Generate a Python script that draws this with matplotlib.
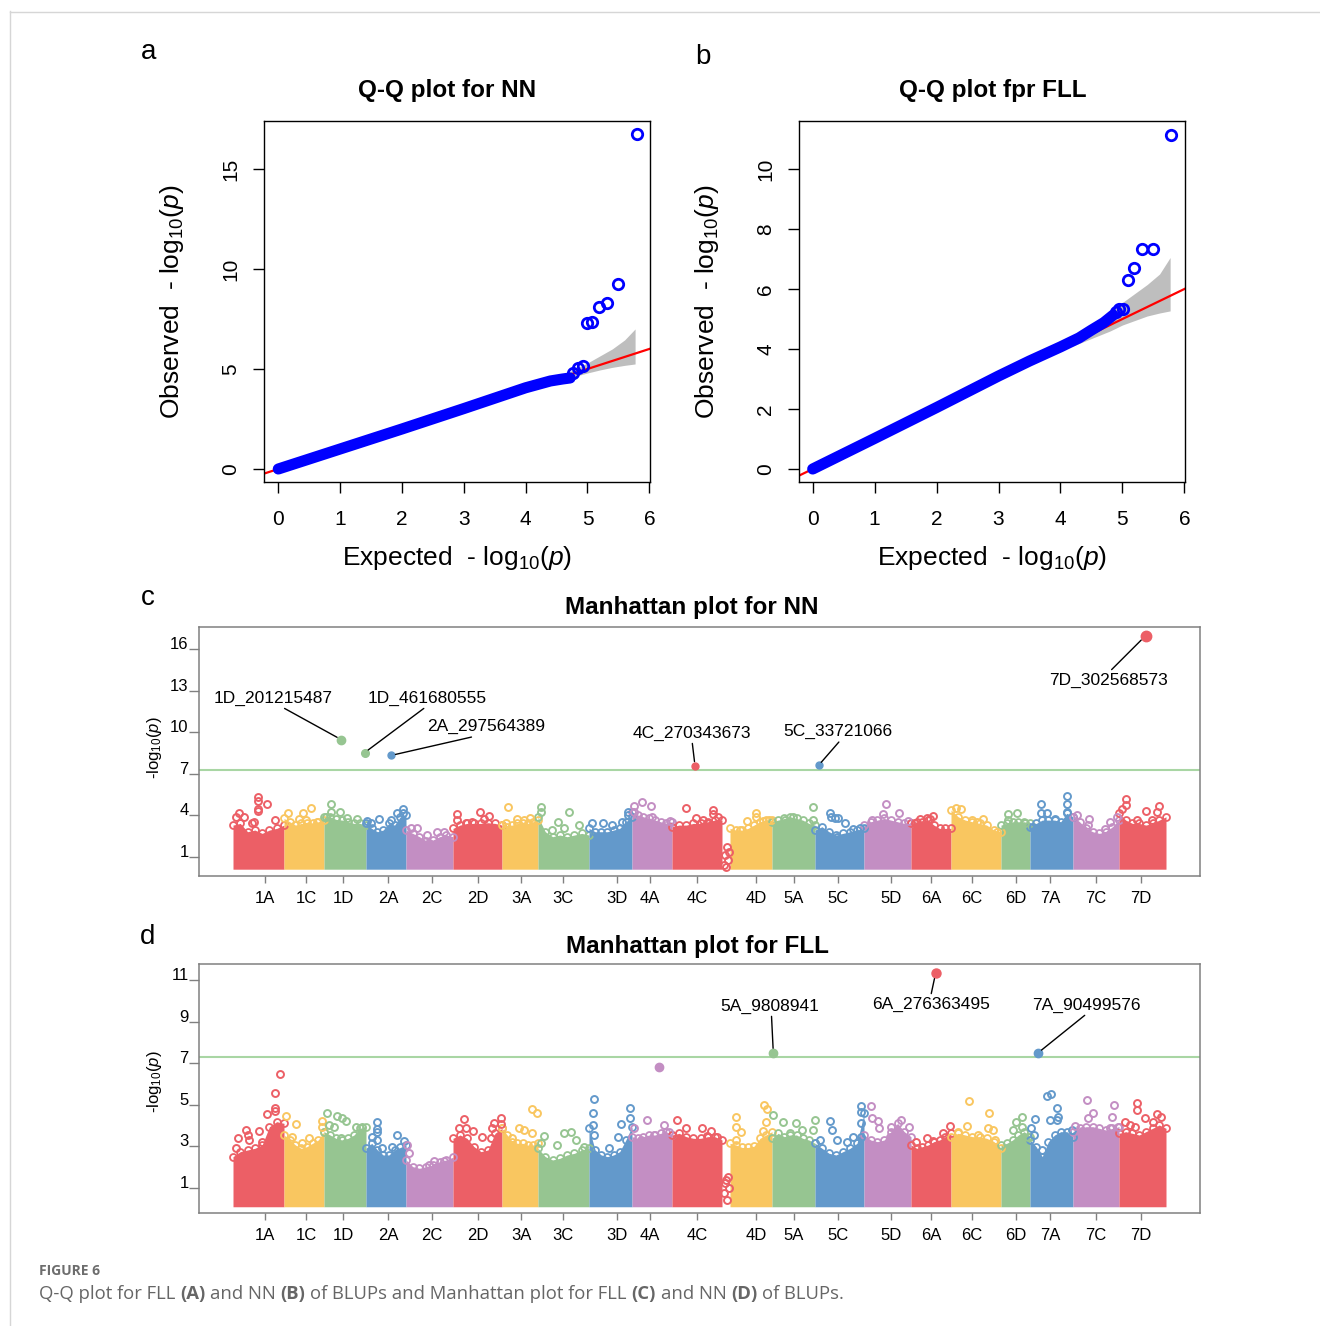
import numpy as np
import matplotlib.pyplot as plt
from matplotlib.lines import Line2D

plt.rcParams['font.family'] = ['Liberation Sans', 'DejaVu Sans']
plt.rcParams['mathtext.fontset'] = 'custom'
plt.rcParams['mathtext.rm'] = 'Liberation Sans'
plt.rcParams['mathtext.it'] = 'Liberation Sans:italic'
plt.rcParams['mathtext.bf'] = 'Liberation Sans:bold'

# ---------------- Q-Q data (-log10 p) ----------------
qq_nn_exp = [0, 1, 2, 3, 4, 4.4, 4.6, 4.72]
qq_nn_obs = [0, 1, 2, 3.02, 4.06, 4.4, 4.5, 4.55]
qq_nn_tail_exp = [4.77, 4.85, 4.93, 5.00, 5.08, 5.19, 5.32, 5.49, 5.80]
qq_nn_tail_obs = [4.78, 5.03, 5.17, 7.32, 7.37, 8.08, 8.28, 9.23, 16.75]
qq_nn_ci_exp = [4.4, 4.7, 5.0, 5.2, 5.4, 5.6, 5.77]
qq_nn_ci_lo = [4.3, 4.55, 4.8, 4.95, 5.08, 5.18, 5.25]
qq_nn_ci_hi = [4.5, 4.85, 5.3, 5.65, 6.0, 6.45, 7.0]

qq_fll_exp = [0, 1, 2, 3, 3.5, 4, 4.3, 4.5, 4.7, 4.85]
qq_fll_obs = [0, 1.02, 2.05, 3.1, 3.6, 4.07, 4.37, 4.63, 4.88, 5.13]
qq_fll_tail_exp = [4.89, 4.94, 5.01, 5.09, 5.18, 5.32, 5.49, 5.79]
qq_fll_tail_obs = [5.24, 5.32, 5.35, 6.31, 6.69, 7.33, 7.33, 11.15]
qq_fll_ci_exp = [4.2, 4.5, 4.8, 5.0, 5.2, 5.4, 5.6, 5.77]
qq_fll_ci_lo = [4.1, 4.35, 4.6, 4.8, 4.95, 5.1, 5.2, 5.27]
qq_fll_ci_hi = [4.3, 4.75, 5.2, 5.55, 5.85, 6.15, 6.5, 7.05]

# ---------------- Manhattan data ----------------
chroms = ['1A', '1C', '1D', '2A', '2C', '2D', '3A', '3C', '3D', '4A', '4C', 'Un',
          '4D', '5A', '5C', '5D', '6A', '6C', '6D', '7A', '7C', '7D']
chrom_len = [612, 480, 504, 480, 564, 588, 432, 612, 516, 480, 600, 96,
             504, 516, 588, 564, 480, 600, 348, 516, 552, 564]
tick_labels = ['1A', '1C', '1D', '2A', '2C', '2D', '3A', '3C', '3D', '4A', '4C',
               '4D', '5A', '5C', '5D', '6A', '6C', '6D', '7A', '7C', '7D']
tick_pos = [384, 876, 1320, 1860, 2388, 2940, 3456, 3960, 4608, 5004, 5568,
            6276, 6732, 7260, 7896, 8376, 8868, 9396, 9804, 10356, 10896]

# upper edge of the dense point cloud, read at even steps along each chromosome
env_nn = [
    [3.29, 3.41, 2.81, 2.93, 2.69, 2.93, 3.05, 3.29],
    [3.77, 3.53, 3.29, 3.41, 3.41, 3.46, 3.53, 3.65],
    [3.89, 3.89, 3.70, 3.65, 3.53, 3.41, 3.41, 3.29],
    [3.41, 3.05, 2.81, 2.93, 3.41, 3.29, 3.89, 4.00],
    [2.93, 2.69, 2.45, 2.16, 2.21, 2.45, 2.57, 2.45],
    [3.05, 3.29, 3.41, 3.41, 3.41, 3.46, 3.41, 3.29],
    [3.29, 3.17, 3.29, 3.41, 3.41, 3.41, 3.53, 3.65],
    [3.89, 2.81, 2.45, 2.57, 2.45, 2.57, 2.69, 2.57],
    [3.05, 2.81, 2.81, 2.81, 2.93, 3.05, 3.53, 3.89],
    [4.26, 4.02, 3.89, 3.77, 3.65, 3.53, 3.41, 3.53],
    [3.17, 3.29, 3.29, 3.41, 3.41, 3.53, 3.65, 3.65],
    [],
    [3.05, 2.93, 2.93, 3.05, 3.29, 3.53, 3.65, 3.65],
    [3.53, 3.65, 3.77, 3.89, 3.77, 3.65, 3.41, 3.29],
    [2.93, 3.17, 2.81, 2.57, 2.69, 2.81, 2.93, 3.05],
    [3.29, 3.53, 3.65, 3.77, 3.65, 3.53, 3.41, 3.41],
    [3.41, 3.53, 3.53, 3.65, 3.29, 3.05, 3.05, 3.05],
    [4.38, 3.89, 3.65, 3.53, 3.41, 3.29, 2.93, 2.81],
    [3.29, 3.41, 3.53, 3.53, 3.53, 3.41],
    [3.17, 3.41, 3.65, 3.65, 3.65, 3.53, 4.14, 3.89],
    [3.89, 3.53, 3.05, 2.81, 2.69, 2.81, 3.17, 3.65],
    [4.14, 3.65, 3.41, 3.41, 3.29, 3.41, 3.65, 3.89],
]
env_fll = [
    [2.51, 2.75, 2.83, 2.91, 3.07, 3.95, 4.19, 4.11],
    [3.55, 3.31, 3.07, 2.91, 2.99, 3.15, 3.31, 3.71],
    [3.71, 3.55, 3.39, 3.31, 3.39, 3.55, 3.87, 3.95],
    [2.91, 3.15, 2.83, 2.59, 2.59, 2.83, 2.95, 3.07],
    [2.35, 2.03, 1.95, 2.03, 2.11, 2.27, 2.35, 2.48],
    [3.39, 3.55, 3.39, 2.99, 2.75, 2.83, 3.63, 3.87],
    [3.87, 3.55, 3.23, 3.15, 3.15, 3.07, 3.07, 3.15],
    [2.91, 2.51, 2.35, 2.43, 2.59, 2.67, 2.83, 2.91],
    [3.87, 2.83, 2.59, 2.51, 2.59, 2.75, 3.31, 3.95],
    [3.47, 3.39, 3.47, 3.55, 3.55, 3.63, 3.71, 3.55],
    [3.55, 3.63, 3.47, 3.39, 3.39, 3.47, 3.47, 3.31],
    [],
    [3.15, 3.07, 2.95, 2.95, 3.01, 3.39, 3.55, 3.71],
    [3.39, 3.63, 3.47, 3.55, 3.55, 3.39, 3.31, 3.15],
    [3.15, 2.91, 2.67, 2.59, 2.75, 2.91, 3.15, 4.59],
    [3.55, 3.31, 3.23, 3.31, 3.71, 4.11, 3.71, 3.47],
    [3.07, 2.91, 2.99, 3.07, 3.23, 3.31, 3.47, 3.63],
    [3.47, 3.63, 3.55, 3.47, 3.47, 3.39, 3.23, 2.91],
    [3.07, 3.15, 3.31, 3.55, 3.71, 3.47],
    [3.31, 2.99, 2.51, 3.23, 3.55, 3.71, 3.71, 3.47],
    [3.71, 3.87, 3.95, 3.95, 3.87, 3.79, 3.87, 3.95],
    [3.63, 3.71, 3.63, 3.55, 3.71, 3.87, 4.03, 3.87],
]

# sparse SNPs above the cloud (cumulative position, -log10 p)
out_nn_pos = [72, 132, 304, 304, 304, 304, 404, 252, 232, 500, 40,
              664, 840, 940, 792, 1012, 872,
              1180, 1180, 1280, 1372, 1492, 1112,
              1652, 1752, 1892, 1972, 2044, 2044, 1612,
              2132, 2212, 2332, 2452, 2532, 2352,
              2684, 2684, 2964, 3072, 3012, 2792, 2872,
              3304, 3412, 3492, 3564, 3272,
              3692, 3692, 4032, 3904, 4152, 3972, 3832,
              4312, 4440, 4552, 4672, 4740, 4740,
              4812, 4912, 5020, 4812, 5032, 5244,
              5440, 5552, 5764, 5764, 5824, 5692, 5644,
              5924, 5904, 5944, 5892, 5956, 5916,
              6172, 6276, 6276, 6364, 6436, 6084,
              6964, 6964, 6724, 6624,
              7164, 7172, 7224, 7264, 7344, 7244, 7444, 7524,
              7836, 7804, 7992, 7664, 8104,
              8244, 8324, 8396, 8364, 8184,
              8676, 8736, 8864, 9004, 9164, 8924,
              9304, 9404, 9304, 9504,
              9692, 9692, 9764, 9864, 10004, 10004, 10004, 9604,
              10124, 10276, 10264, 10524, 10604, 10464,
              10712, 10712, 10956, 11116, 11084, 10664, 10844, 11024]
out_nn_val = [4.14, 3.89, 5.34, 5.05, 4.43, 4.31, 4.81, 3.53, 3.41, 3.65, 3.89,
              4.19, 4.14, 4.50, 3.70, 3.53, 3.65,
              4.81, 4.26, 4.26, 3.82, 3.70, 3.89,
              3.41, 3.70, 3.65, 4.14, 4.43, 4.19, 3.60,
              3.10, 3.10, 2.60, 2.81, 2.81, 1.97,
              4.09, 3.65, 4.26, 3.96, 3.70, 3.41, 3.53,
              4.62, 3.70, 3.65, 3.82, 3.41,
              4.57, 4.26, 4.26, 3.53, 3.29, 3.05, 2.93,
              3.46, 3.46, 3.29, 3.53, 4.26, 4.00,
              4.67, 4.95, 4.67, 4.26, 3.89, 3.60,
              4.55, 3.77, 4.38, 4.07, 3.89, 3.41, 3.65,
              1.67, 1.13, 0.77, 0.41, 1.37, 0.24,
              3.58, 4.14, 3.89, 3.60, 3.65, 2.93,
              4.62, 3.65, 3.89, 3.65,
              4.17, 3.89, 3.77, 3.77, 3.46, 2.45, 2.98, 3.10,
              4.81, 4.07, 4.14, 3.65, 3.60,
              3.70, 3.77, 3.94, 3.70, 3.41,
              4.55, 4.43, 3.65, 3.70, 2.81, 3.53,
              4.09, 4.19, 3.65, 3.46,
              4.79, 4.19, 4.19, 3.70, 5.41, 4.79, 4.26, 3.17,
              3.99, 3.70, 3.29, 3.53, 3.89, 2.98,
              5.17, 4.74, 4.33, 4.67, 4.26, 4.43, 3.65, 3.65]

out_fll_pos = [564, 500, 504, 504, 412, 152, 312, 64, 32, 184, 192, 352,
               640, 760, 704, 912, 832, 1072, 1064,
               1124, 1244, 1304, 1352, 1152, 1212, 1472, 1552, 1292,
               1724, 1724, 1724, 1732, 1672, 1972, 1784, 2052, 1912,
               2412, 2532, 2352, 2112, 2092,
               2772, 2712, 2792, 2880, 3132, 3212, 3104, 3212, 2992, 3092,
               3592, 3650, 3432, 3492, 3592, 3352,
               3736, 3972, 4060, 4112, 4212, 3892, 3692,
               4332, 4320, 4320, 4332, 4652, 4624, 4764, 4764, 4512,
               4964, 5172, 4812, 5232, 5052, 4892,
               5332, 5440, 5736, 5812, 5684, 5624,
               5944, 5904, 5956, 5892, 5932, 5916,
               6032, 6032, 6092, 6032, 6372, 6404, 6396, 6356,
               6476, 6596, 6752, 6980, 6964, 6684, 6824,
               7164, 7192, 7244, 7044, 7364, 7436, 7536, 7536, 7536, 7536,
               7652, 7672, 7744, 7752, 7896, 8016, 8116, 7884,
               8324, 8404, 8524, 8600, 8196,
               8832, 8804, 9076, 9064, 9124, 9144, 8704, 8944,
               9464, 9396, 9464, 9364, 9544,
               9764, 9816, 9884, 9884, 9904, 9624, 9576, 9616, 9704, 10064, 9804,
               10244, 10324, 10264, 10576, 10552, 10104, 10184, 10524, 10624,
               10852, 10852, 10944, 11084, 11132, 10704, 10764, 10824, 11044]
out_fll_val = [6.48, 5.55, 4.83, 4.72, 4.55, 3.79, 3.76, 3.39, 2.91, 3.55, 3.31, 3.23,
               4.46, 4.07, 3.47, 3.42, 3.15, 4.22, 3.95,
               4.59, 4.46, 4.35, 4.24, 4.03, 3.95, 3.95, 3.95, 3.39,
               4.19, 3.83, 3.67, 3.31, 3.47, 3.55, 2.91, 3.27, 2.95,
               2.30, 2.30, 2.10, 2.67, 3.07,
               4.30, 3.90, 3.87, 3.75, 4.15, 4.35, 3.91, 4.06, 3.47, 3.39,
               4.78, 4.59, 3.87, 3.79, 3.66, 3.39,
               3.50, 3.66, 3.71, 3.31, 2.99, 3.07, 3.15,
               5.28, 4.59, 4.03, 3.55, 4.06, 3.43, 4.86, 4.35, 2.91,
               4.27, 4.03, 3.87, 3.71, 3.55, 3.33,
               4.27, 3.87, 3.75, 3.47, 3.50, 3.87,
               1.55, 1.23, 1.00, 0.76, 0.44, 1.39,
               4.43, 3.92, 3.71, 3.31, 4.99, 4.78, 4.19, 3.76,
               4.51, 4.19, 4.11, 4.27, 3.79, 3.63, 3.79,
               4.20, 3.79, 3.31, 3.31, 3.23, 3.43, 4.96, 4.64, 4.11, 3.47,
               4.96, 4.35, 4.24, 3.87, 3.95, 4.27, 3.95, 3.47,
               3.39, 3.27, 3.66, 3.98, 3.19,
               5.20, 3.98, 4.62, 3.87, 3.79, 3.31, 3.71, 3.55,
               4.40, 4.19, 3.95, 3.79, 3.47,
               5.42, 5.50, 4.83, 4.27, 4.40, 4.30, 3.87, 3.55, 2.83, 3.79, 4.27,
               5.23, 4.59, 4.35, 4.99, 4.40, 4.00, 3.76, 3.87, 3.95,
               5.10, 4.75, 4.38, 4.56, 4.40, 4.19, 4.03, 3.95, 4.19]

# significant SNPs
sig_nn_label = ['1D_201215487', '1D_461680555', '2A_297564389',
                '4C_270343673', '5C_33721066', '7D_302568573']
sig_nn_pos = [1301, 1578, 1901, 5544, 7026, 10951]
sig_nn_val = [9.46, 8.52, 8.33, 7.58, 7.60, 16.98]
lab_nn_pos = [487, 2334, 3036, 5508, 7260, 10510]
lab_nn_val = [12.47, 12.47, 10.40, 9.94, 10.04, 13.78]

sig_fll_label = ['5A_9808941', '6A_276363495', '7A_90499576']
sig_fll_pos = [6484, 8431, 9655]
sig_fll_val = [7.48, 11.32, 7.48]
lab_fll_pos = [6437, 8372, 10236]
lab_fll_val = [9.75, 9.85, 9.80]
top_fll_pos = [5112]
top_fll_val = [6.83]

threshold = 7.3

RED, YEL, GRN, BLU, PUR = '#ec5f66', '#f9c660', '#96c591', '#6399cb', '#c38ec3'
palette = [RED, YEL, GRN, BLU, PUR]

W, H = 1320, 1326


def fx(x):
    return x / W


def fy(y):
    return 1 - y / H


def chrom_colors():
    cols, k = [], 0
    for c in chroms:
        if c == 'Un':
            cols.append(RED)
        else:
            cols.append(palette[k % 5])
            k += 1
    return cols


def draw_qq(ax, de, do, te, to, ce, clo, chi, xlim, ylim, yticks):
    ax.fill_between(ce, clo, chi, color='#bebebe', lw=0, zorder=1)
    ax.axline((0, 0), slope=1, color='red', lw=1.6, zorder=2)
    ax.plot(de, do, color='blue', lw=8, solid_capstyle='round', zorder=3)
    ax.plot(te, to, 'o', ms=7.5, mfc='none', mec='blue', mew=2, zorder=4)
    ax.set_xlim(xlim)
    ax.set_ylim(ylim)
    ax.set_xticks(range(7))
    ax.set_yticks(yticks)
    ax.tick_params(axis='x', direction='out', length=8, width=1, labelsize=15, pad=12)
    ax.tick_params(axis='y', direction='out', length=8, width=1, labelsize=15, pad=9,
                   labelrotation=90)
    for lab in ax.get_yticklabels():
        lab.set_verticalalignment('center')
    for s in ax.spines.values():
        s.set_linewidth(1)


def draw_manhattan(ax, env, opos, oval, sig_lab, sig_pos, sig_val, lab_pos, lab_val,
                   relpos, sizes, ylim, yticks):
    cols = chrom_colors()
    lens = np.array(chrom_len)
    ends = np.cumsum(lens)
    starts = ends - lens
    for s, e, vals, c in zip(starts, ends, env, cols):
        if not vals:
            continue
        xs = np.linspace(s, e, len(vals))
        ax.fill_between(xs, 0.1, vals, color=c, lw=0, zorder=2)
        ax.plot(xs, vals, 'o', ms=5, mfc='none', mec=c, mew=1.3, zorder=3)
    idx = np.searchsorted(ends, opos, side='right')
    ocol = [cols[i] for i in idx]
    for x, y, c in zip(opos, oval, ocol):
        ax.plot(x, y, 'o', ms=5, mfc='none', mec=c, mew=1.4, zorder=3)

    ax.axhline(threshold, color='#a9d6a4', lw=1.5, zorder=1)

    sidx = np.searchsorted(ends, sig_pos, side='right')
    for lab, x, y, tx, ty, i, rp, ms in zip(sig_lab, sig_pos, sig_val, lab_pos, lab_val,
                                           sidx, relpos, sizes):
        ax.plot(x, y, 'o', ms=ms, color=cols[i], mec=cols[i], zorder=5)
        ax.annotate(lab, xy=(x, y), xytext=(tx, ty), ha='center', va='center',
                    fontsize=12.5, zorder=6,
                    arrowprops=dict(arrowstyle='-', color='black', lw=1,
                                    shrinkA=0, shrinkB=ms * 0.6, relpos=rp))

    ax.set_xlim(-408, 11604)
    ax.set_ylim(ylim)
    ax.set_xticks(tick_pos, tick_labels)
    ax.set_yticks(yticks, [str(t) for t in yticks], va='baseline')
    ax.tick_params(axis='x', direction='out', length=5, width=1, colors='#808080',
                   labelcolor='black', labelsize=12, pad=6)
    ax.tick_params(axis='y', direction='out', length=7, width=1, colors='#808080',
                   labelcolor='black', labelsize=12, pad=0.5)
    for s in ax.spines.values():
        s.set_color('#808080')
        s.set_linewidth(1.1)


fig = plt.figure(figsize=(W / 100, H / 100), dpi=100)

# Q-Q plots
ax_a = fig.add_axes([fx(264), fy(482.3), (650 - 264) / W, (482.3 - 120.7) / H])
draw_qq(ax_a, qq_nn_exp, qq_nn_obs, qq_nn_tail_exp, qq_nn_tail_obs,
        qq_nn_ci_exp, qq_nn_ci_lo, qq_nn_ci_hi, (-0.231, 6.011), (-0.665, 17.41),
        [0, 5, 10, 15])
ax_b = fig.add_axes([fx(799), fy(482.3), (1185 - 799) / W, (482.3 - 120.7) / H])
draw_qq(ax_b, qq_fll_exp, qq_fll_obs, qq_fll_tail_exp, qq_fll_tail_obs,
        qq_fll_ci_exp, qq_fll_ci_lo, qq_fll_ci_hi, (-0.221, 6.01), (-0.443, 11.61),
        [0, 2, 4, 6, 8, 10])

qq_ylab = 'Observed  - log$_{10}$$(p)$'
qq_xlab = 'Expected  - log$_{10}$$(p)$'
fig.text(fx(447), fy(90), 'Q-Q plot for NN', ha='center', va='center',
         fontsize=17.5, fontweight='bold')
fig.text(fx(993), fy(90), 'Q-Q plot fpr FLL', ha='center', va='center',
         fontsize=17.5, fontweight='bold')
fig.text(fx(172), fy(302), qq_ylab, rotation=90, ha='center', va='center', fontsize=19)
fig.text(fx(707), fy(302), qq_ylab, rotation=90, ha='center', va='center', fontsize=19)
fig.text(fx(457), fy(558), qq_xlab, ha='center', va='center', fontsize=19)
fig.text(fx(992), fy(558), qq_xlab, ha='center', va='center', fontsize=19)

# Manhattan plots
ax_c = fig.add_axes([fx(199), fy(875.7), (1200 - 199) / W, (875.7 - 626.7) / H])
draw_manhattan(ax_c, env_nn, out_nn_pos, out_nn_val, sig_nn_label, sig_nn_pos,
               sig_nn_val, lab_nn_pos, lab_nn_val,
               [(0.55, 0), (0.5, 0), (0.48, 0), (0.5, 0), (0.53, 0), (0.5, 1)],
               [6, 5.5, 5, 5, 5, 7.5], (-0.37, 17.63), [1, 4, 7, 10, 13, 16])

ax_d = fig.add_axes([fx(199), fy(1213), (1200 - 199) / W, (1213 - 964) / H])
draw_manhattan(ax_d, env_fll, out_fll_pos, out_fll_val, sig_fll_label, sig_fll_pos,
               sig_fll_val, lab_fll_pos, lab_fll_val,
               [(0.52, 0), (0.5, 1), (0.52, 0)],
               [6, 6.5, 6], (-0.2, 11.77), [1, 3, 5, 7, 9, 11])
ax_d.plot(top_fll_pos, top_fll_val, 'o', ms=6, color=PUR, zorder=5)

fig.text(fx(692), fy(608), 'Manhattan plot for NN', ha='center', va='center',
         fontsize=17.5, fontweight='bold')
fig.text(fx(697), fy(947), 'Manhattan plot for FLL', ha='center', va='center',
         fontsize=17.5, fontweight='bold')
man_ylab = '-log$_{10}$$(p)$'
fig.text(fx(155), fy(748), man_ylab, rotation=90, ha='center', va='center', fontsize=12)
fig.text(fx(155), fy(1082), man_ylab, rotation=90, ha='center', va='center', fontsize=12)

# panel letters
for letter, x, y in [('a', 149, 52), ('b', 703, 57), ('c', 148, 598), ('d', 148, 937)]:
    fig.text(fx(x), fy(y), letter, ha='center', va='center', fontsize=20)

# frame of the figure box
fig.add_artist(Line2D([fx(10), fx(1320)], [fy(11.5), fy(11.5)], color='#d6d6d6', lw=1))
fig.add_artist(Line2D([fx(10.5), fx(10.5)], [fy(11), fy(1326)], color='#d6d6d6', lw=1))

# caption
cap_font = ['Open Sans', 'DejaVu Sans']
cap_size = 13.3
fig.text(fx(39), fy(1271), 'FIGURE 6', ha='left', va='center', fontsize=10,
         fontweight='bold', color='#6d6d6d', family=cap_font)
renderer = fig.canvas.get_renderer()
pieces = [('Q-Q plot for FLL', 'normal'), ('(A)', 'bold'), ('and NN', 'normal'),
          ('(B)', 'bold'), ('of BLUPs and Manhattan plot for FLL', 'normal'),
          ('(C)', 'bold'), ('and NN', 'normal'), ('(D)', 'bold'), ('of BLUPs.', 'normal')]
probe1 = fig.text(0, 0, 'x x', fontsize=cap_size, family=cap_font)
probe2 = fig.text(0, 0, 'xx', fontsize=cap_size, family=cap_font)
space_w = (probe1.get_window_extent(renderer).width
           - probe2.get_window_extent(renderer).width) / fig.bbox.width
probe1.remove()
probe2.remove()
xcur = fx(39)
for s, wt in pieces:
    t = fig.text(xcur, fy(1294), s, ha='left', va='center', fontsize=cap_size,
                 fontweight=wt, color='#666666', family=cap_font)
    xcur += t.get_window_extent(renderer).width / fig.bbox.width + space_w

fig.savefig('out.png', dpi=100)
